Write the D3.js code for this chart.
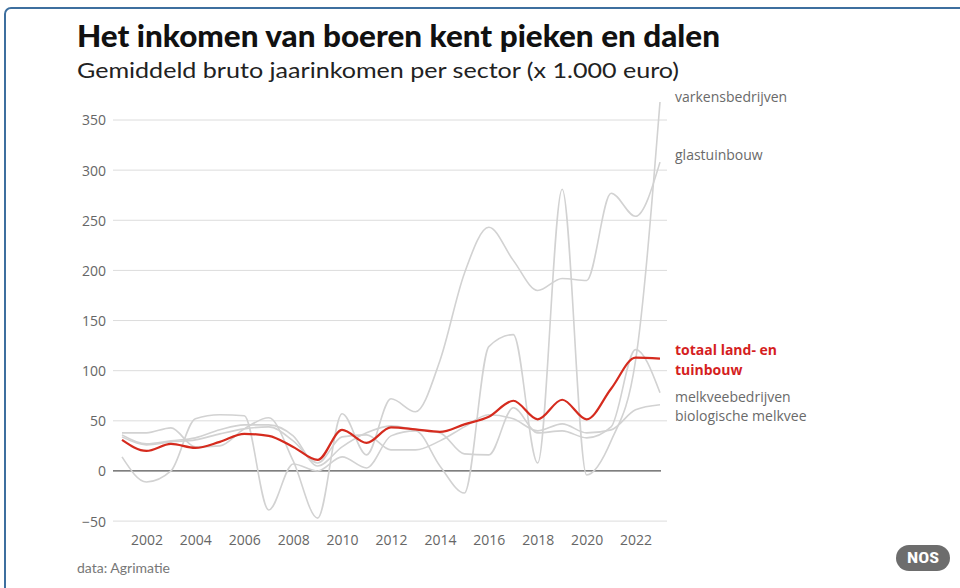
<!DOCTYPE html>
<html>
<head>
<meta charset="utf-8">
<script src="https://cdn.jsdelivr.net/npm/d3@7"></script>
<style>
  html, body { margin: 0; padding: 0; background: #fff; }
  svg { display: block; }
</style>
</head>
<body>
<svg id="chart" width="960" height="588"></svg>
<script>
const years = d3.range(2001, 2024);
const xTicks = [2002, 2004, 2006, 2008, 2010, 2012, 2014, 2016, 2018, 2020, 2022];
const yTicks = [-50, 0, 50, 100, 150, 200, 250, 300, 350];

const varkensbedrijven = [14, -11, 0, 52, 56, 55, -39, 7, 0, 14, 3, 35, 40, 5, -22, 124, 136, 8, 281, -4, 30, 110, 368];
const glastuinbouw     = [38, 38, 43, 24, 25, 42, 53, 10, -47, 57, 16, 72, 59, 110, 197, 243, 210, 180, 192, 190, 277, 254, 308];
const melkveebedrijven = [36, 27, 30, 33, 41, 46, 46, 35, 5, 24, 38, 45, 41, 38, 17, 16, 63, 38, 40, 33, 44, 121, 78];
const biologischeMelkvee = [34, 26, 29, 31, 37, 42, 44, 30, 8, 34, 36, 21, 21, 30, 44, 56, 52, 40, 47, 38, 41, 61, 66];
const totaal           = [31, 20, 27, 23, 29, 37, 35, 24, 11, 41, 28, 43.5, 41.5, 39, 46.5, 54, 70, 51.5, 71, 51.5, 82, 113, 112];

const grayNames = ["varkensbedrijven", "glastuinbouw", "melkveebedrijven", "biologische melkvee"];
const grayValues = [varkensbedrijven, glastuinbouw, melkveebedrijven, biologischeMelkvee];
const redName = ["totaal land- en", "tuinbouw"];

const svg = d3.select("#chart");

// frame
svg.append("rect")
  .attr("x", 5).attr("y", 8).attr("width", 1000).attr("height", 700)
  .attr("rx", 6)
  .attr("fill", "none").attr("stroke", "#3d6f9f").attr("stroke-width", 2);

const x = d3.scaleLinear().domain([2001, 2023]).range([122, 660]);
const y = d3.scaleLinear().domain([-50, 350]).range([521.1, 120]);

// title
svg.append("text")
  .attr("x", 77).attr("y", 47)
  .attr("font-family", "Lato, 'Open Sans', sans-serif")
  .attr("font-weight", 900).attr("font-size", 31)
  .attr("fill", "#111")
  .attr("textLength", 643).attr("lengthAdjust", "spacingAndGlyphs")
  .text("Het inkomen van boeren kent pieken en dalen");

svg.append("text")
  .attr("x", 77).attr("y", 78)
  .attr("font-family", "Lato, 'Open Sans', sans-serif")
  .attr("font-weight", 400).attr("font-size", 22)
  .attr("fill", "#222")
  .attr("textLength", 602).attr("lengthAdjust", "spacingAndGlyphs")
  .text("Gemiddeld bruto jaarinkomen per sector (x 1.000 euro)");

// grid
const grid = svg.append("g");
grid.selectAll("line")
  .data(yTicks.filter(d => d !== 0))
  .join("line")
  .attr("x1", 113).attr("x2", 667)
  .attr("y1", d => y(d)).attr("y2", d => y(d))
  .attr("stroke", "#dcdcdc").attr("stroke-width", 1);

// y axis labels
const yAxis = d3.axisLeft(y).tickValues(yTicks).tickSize(0).tickPadding(0)
  .tickFormat(d => d < 0 ? "\u2212" + Math.abs(d) : d);
const gy = svg.append("g").attr("transform", "translate(106,0)").call(yAxis);
gy.select(".domain").remove();
gy.selectAll("text")
  .attr("font-family", "'Open Sans', sans-serif").attr("font-size", 14)
  .attr("fill", "#666").attr("dy", "0.35em");

// x axis labels
const xAxis = d3.axisBottom(x).tickValues(xTicks).tickSize(0).tickPadding(0)
  .tickFormat(d3.format("d"));
const gx = svg.append("g").attr("transform", "translate(0,535)").call(xAxis);
gx.select(".domain").remove();
gx.selectAll("text")
  .attr("font-family", "'Open Sans', sans-serif").attr("font-size", 14)
  .attr("fill", "#666").attr("dy", "0.71em");

// zero line
svg.append("line")
  .attr("x1", 113).attr("x2", 661)
  .attr("y1", y(0)).attr("y2", y(0))
  .attr("stroke", "#555").attr("stroke-width", 1.3);

const line = d3.line()
  .x((d, i) => x(years[i]))
  .y(d => y(d))
  .curve(d3.curveMonotoneX);

svg.append("g").selectAll("path")
  .data(grayValues)
  .join("path")
  .attr("d", d => line(d))
  .attr("fill", "none")
  .attr("stroke", "#d2d2d2")
  .attr("stroke-width", 1.6);

svg.append("path")
  .attr("d", line(totaal))
  .attr("fill", "none")
  .attr("stroke", "#d52b1e")
  .attr("stroke-width", 2.2);

// labels
const labelY = [97, 155, 397, 416];
svg.append("g").selectAll("text")
  .data(grayNames)
  .join("text")
  .attr("x", 675).attr("y", (d, i) => labelY[i])
  .attr("dy", "0.35em")
  .attr("font-family", "'Open Sans', sans-serif").attr("font-size", 14)
  .attr("fill", "#6a6a6a")
  .text(d => d);

svg.append("g").selectAll("text")
  .data(redName)
  .join("text")
  .attr("x", 675).attr("y", (d, i) => 350.5 + i * 19.3)
  .attr("dy", "0.35em")
  .attr("font-family", "'Open Sans', sans-serif").attr("font-size", 14)
  .attr("font-weight", 700)
  .attr("fill", "#d51f1f")
  .text(d => d);

// source
svg.append("text")
  .attr("x", 77).attr("y", 573)
  .attr("font-family", "Lato, 'Open Sans', sans-serif").attr("font-size", 14)
  .attr("fill", "#777")
  .text("data: Agrimatie");

// NOS logo
svg.append("rect")
  .attr("x", 896).attr("y", 545).attr("width", 54).attr("height", 26).attr("rx", 13)
  .attr("fill", "#6d6d6d");
svg.append("text")
  .attr("x", 923).attr("y", 558).attr("dy", "0.35em")
  .attr("text-anchor", "middle")
  .attr("font-family", "'Roboto Condensed', Roboto, sans-serif")
  .attr("font-weight", 700).attr("font-size", 15)
  .attr("fill", "#fff")
  .attr("textLength", 32).attr("lengthAdjust", "spacingAndGlyphs")
  .text("NOS");
</script>
</body>
</html>
